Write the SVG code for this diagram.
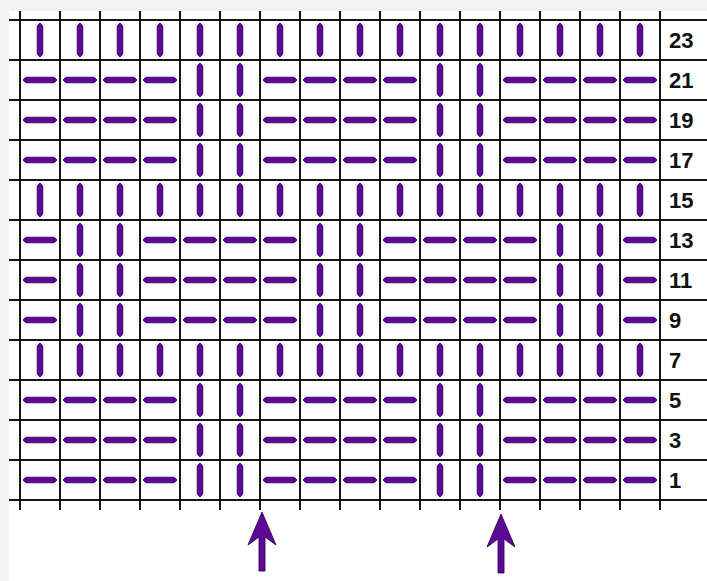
<svg xmlns="http://www.w3.org/2000/svg" xmlns:xlink="http://www.w3.org/1999/xlink" width="707" height="581" viewBox="0 0 707 581">
<style>
.grid line{stroke:#151515;stroke-width:2}
.st{fill:#5a0a94;stroke:#35055a;stroke-width:0.9}
.lbl{font-family:"Liberation Sans",Arial,sans-serif;font-weight:bold;font-size:22px;fill:#111}
.arrow{fill:#5a0a94;stroke:#35055a;stroke-width:0.9}
</style>
<defs>
<path id="v" class="st" d="M0,-17 L2.8,-14 L2.8,14 L0,17 L-2.8,14 L-2.8,-14 Z"/>
<path id="h" class="st" d="M-17,0 L-14,-2.8 L14,-2.8 L17,0 L14,2.8 L-14,2.8 Z"/>
</defs>
<rect width="707" height="581" fill="#f3f3f3"/>
<rect x="9" y="11" width="698" height="570" fill="#ffffff"/>
<g id="grid" class="grid">
<line x1="20" y1="11" x2="20" y2="510"/><line x1="60" y1="11" x2="60" y2="510"/><line x1="100" y1="11" x2="100" y2="510"/><line x1="140" y1="11" x2="140" y2="510"/><line x1="180" y1="11" x2="180" y2="510"/><line x1="220" y1="11" x2="220" y2="510"/><line x1="260" y1="11" x2="260" y2="510"/><line x1="300" y1="11" x2="300" y2="510"/><line x1="340" y1="11" x2="340" y2="510"/><line x1="380" y1="11" x2="380" y2="510"/><line x1="420" y1="11" x2="420" y2="510"/><line x1="460" y1="11" x2="460" y2="510"/><line x1="500" y1="11" x2="500" y2="510"/><line x1="540" y1="11" x2="540" y2="510"/><line x1="580" y1="11" x2="580" y2="510"/><line x1="620" y1="11" x2="620" y2="510"/><line x1="660" y1="11" x2="660" y2="510"/>
<line x1="9" y1="20" x2="707" y2="20"/><line x1="9" y1="60" x2="707" y2="60"/><line x1="9" y1="100" x2="707" y2="100"/><line x1="9" y1="140" x2="707" y2="140"/><line x1="9" y1="180" x2="707" y2="180"/><line x1="9" y1="220" x2="707" y2="220"/><line x1="9" y1="260" x2="707" y2="260"/><line x1="9" y1="300" x2="707" y2="300"/><line x1="9" y1="340" x2="707" y2="340"/><line x1="9" y1="380" x2="707" y2="380"/><line x1="9" y1="420" x2="707" y2="420"/><line x1="9" y1="460" x2="707" y2="460"/><line x1="9" y1="500" x2="707" y2="500"/>
</g>
<g id="row23"><use href="#v" x="40" y="40"/><use href="#v" x="80" y="40"/><use href="#v" x="120" y="40"/><use href="#v" x="160" y="40"/><use href="#v" x="200" y="40"/><use href="#v" x="240" y="40"/><use href="#v" x="280" y="40"/><use href="#v" x="320" y="40"/><use href="#v" x="360" y="40"/><use href="#v" x="400" y="40"/><use href="#v" x="440" y="40"/><use href="#v" x="480" y="40"/><use href="#v" x="520" y="40"/><use href="#v" x="560" y="40"/><use href="#v" x="600" y="40"/><use href="#v" x="640" y="40"/></g>
<g id="row21"><use href="#h" x="40" y="80"/><use href="#h" x="80" y="80"/><use href="#h" x="120" y="80"/><use href="#h" x="160" y="80"/><use href="#v" x="200" y="80"/><use href="#v" x="240" y="80"/><use href="#h" x="280" y="80"/><use href="#h" x="320" y="80"/><use href="#h" x="360" y="80"/><use href="#h" x="400" y="80"/><use href="#v" x="440" y="80"/><use href="#v" x="480" y="80"/><use href="#h" x="520" y="80"/><use href="#h" x="560" y="80"/><use href="#h" x="600" y="80"/><use href="#h" x="640" y="80"/></g>
<g id="row19"><use href="#h" x="40" y="120"/><use href="#h" x="80" y="120"/><use href="#h" x="120" y="120"/><use href="#h" x="160" y="120"/><use href="#v" x="200" y="120"/><use href="#v" x="240" y="120"/><use href="#h" x="280" y="120"/><use href="#h" x="320" y="120"/><use href="#h" x="360" y="120"/><use href="#h" x="400" y="120"/><use href="#v" x="440" y="120"/><use href="#v" x="480" y="120"/><use href="#h" x="520" y="120"/><use href="#h" x="560" y="120"/><use href="#h" x="600" y="120"/><use href="#h" x="640" y="120"/></g>
<g id="row17"><use href="#h" x="40" y="160"/><use href="#h" x="80" y="160"/><use href="#h" x="120" y="160"/><use href="#h" x="160" y="160"/><use href="#v" x="200" y="160"/><use href="#v" x="240" y="160"/><use href="#h" x="280" y="160"/><use href="#h" x="320" y="160"/><use href="#h" x="360" y="160"/><use href="#h" x="400" y="160"/><use href="#v" x="440" y="160"/><use href="#v" x="480" y="160"/><use href="#h" x="520" y="160"/><use href="#h" x="560" y="160"/><use href="#h" x="600" y="160"/><use href="#h" x="640" y="160"/></g>
<g id="row15"><use href="#v" x="40" y="200"/><use href="#v" x="80" y="200"/><use href="#v" x="120" y="200"/><use href="#v" x="160" y="200"/><use href="#v" x="200" y="200"/><use href="#v" x="240" y="200"/><use href="#v" x="280" y="200"/><use href="#v" x="320" y="200"/><use href="#v" x="360" y="200"/><use href="#v" x="400" y="200"/><use href="#v" x="440" y="200"/><use href="#v" x="480" y="200"/><use href="#v" x="520" y="200"/><use href="#v" x="560" y="200"/><use href="#v" x="600" y="200"/><use href="#v" x="640" y="200"/></g>
<g id="row13"><use href="#h" x="40" y="240"/><use href="#v" x="80" y="240"/><use href="#v" x="120" y="240"/><use href="#h" x="160" y="240"/><use href="#h" x="200" y="240"/><use href="#h" x="240" y="240"/><use href="#h" x="280" y="240"/><use href="#v" x="320" y="240"/><use href="#v" x="360" y="240"/><use href="#h" x="400" y="240"/><use href="#h" x="440" y="240"/><use href="#h" x="480" y="240"/><use href="#h" x="520" y="240"/><use href="#v" x="560" y="240"/><use href="#v" x="600" y="240"/><use href="#h" x="640" y="240"/></g>
<g id="row11"><use href="#h" x="40" y="280"/><use href="#v" x="80" y="280"/><use href="#v" x="120" y="280"/><use href="#h" x="160" y="280"/><use href="#h" x="200" y="280"/><use href="#h" x="240" y="280"/><use href="#h" x="280" y="280"/><use href="#v" x="320" y="280"/><use href="#v" x="360" y="280"/><use href="#h" x="400" y="280"/><use href="#h" x="440" y="280"/><use href="#h" x="480" y="280"/><use href="#h" x="520" y="280"/><use href="#v" x="560" y="280"/><use href="#v" x="600" y="280"/><use href="#h" x="640" y="280"/></g>
<g id="row9"><use href="#h" x="40" y="320"/><use href="#v" x="80" y="320"/><use href="#v" x="120" y="320"/><use href="#h" x="160" y="320"/><use href="#h" x="200" y="320"/><use href="#h" x="240" y="320"/><use href="#h" x="280" y="320"/><use href="#v" x="320" y="320"/><use href="#v" x="360" y="320"/><use href="#h" x="400" y="320"/><use href="#h" x="440" y="320"/><use href="#h" x="480" y="320"/><use href="#h" x="520" y="320"/><use href="#v" x="560" y="320"/><use href="#v" x="600" y="320"/><use href="#h" x="640" y="320"/></g>
<g id="row7"><use href="#v" x="40" y="360"/><use href="#v" x="80" y="360"/><use href="#v" x="120" y="360"/><use href="#v" x="160" y="360"/><use href="#v" x="200" y="360"/><use href="#v" x="240" y="360"/><use href="#v" x="280" y="360"/><use href="#v" x="320" y="360"/><use href="#v" x="360" y="360"/><use href="#v" x="400" y="360"/><use href="#v" x="440" y="360"/><use href="#v" x="480" y="360"/><use href="#v" x="520" y="360"/><use href="#v" x="560" y="360"/><use href="#v" x="600" y="360"/><use href="#v" x="640" y="360"/></g>
<g id="row5"><use href="#h" x="40" y="400"/><use href="#h" x="80" y="400"/><use href="#h" x="120" y="400"/><use href="#h" x="160" y="400"/><use href="#v" x="200" y="400"/><use href="#v" x="240" y="400"/><use href="#h" x="280" y="400"/><use href="#h" x="320" y="400"/><use href="#h" x="360" y="400"/><use href="#h" x="400" y="400"/><use href="#v" x="440" y="400"/><use href="#v" x="480" y="400"/><use href="#h" x="520" y="400"/><use href="#h" x="560" y="400"/><use href="#h" x="600" y="400"/><use href="#h" x="640" y="400"/></g>
<g id="row3"><use href="#h" x="40" y="440"/><use href="#h" x="80" y="440"/><use href="#h" x="120" y="440"/><use href="#h" x="160" y="440"/><use href="#v" x="200" y="440"/><use href="#v" x="240" y="440"/><use href="#h" x="280" y="440"/><use href="#h" x="320" y="440"/><use href="#h" x="360" y="440"/><use href="#h" x="400" y="440"/><use href="#v" x="440" y="440"/><use href="#v" x="480" y="440"/><use href="#h" x="520" y="440"/><use href="#h" x="560" y="440"/><use href="#h" x="600" y="440"/><use href="#h" x="640" y="440"/></g>
<g id="row1"><use href="#h" x="40" y="480"/><use href="#h" x="80" y="480"/><use href="#h" x="120" y="480"/><use href="#h" x="160" y="480"/><use href="#v" x="200" y="480"/><use href="#v" x="240" y="480"/><use href="#h" x="280" y="480"/><use href="#h" x="320" y="480"/><use href="#h" x="360" y="480"/><use href="#h" x="400" y="480"/><use href="#v" x="440" y="480"/><use href="#v" x="480" y="480"/><use href="#h" x="520" y="480"/><use href="#h" x="560" y="480"/><use href="#h" x="600" y="480"/><use href="#h" x="640" y="480"/></g>
<g id="labels" class="lbl">
<text x="669" y="48">23</text><text x="669" y="88">21</text><text x="669" y="128">19</text><text x="669" y="168">17</text><text x="669" y="208">15</text><text x="669" y="248">13</text><text x="669" y="288">11</text><text x="669" y="328">9</text><text x="669" y="368">7</text><text x="669" y="408">5</text><text x="669" y="448">3</text><text x="669" y="488">1</text>
</g>
<g id="arrows">
<path class="arrow" d="M262,512 L276,545 L265,537 L265,571 L259,571 L259,537 L248,545 Z"/>
<path class="arrow" d="M501,514 L515,547 L504,539 L504,573 L498,573 L498,539 L487,547 Z"/>
</g>
</svg>
